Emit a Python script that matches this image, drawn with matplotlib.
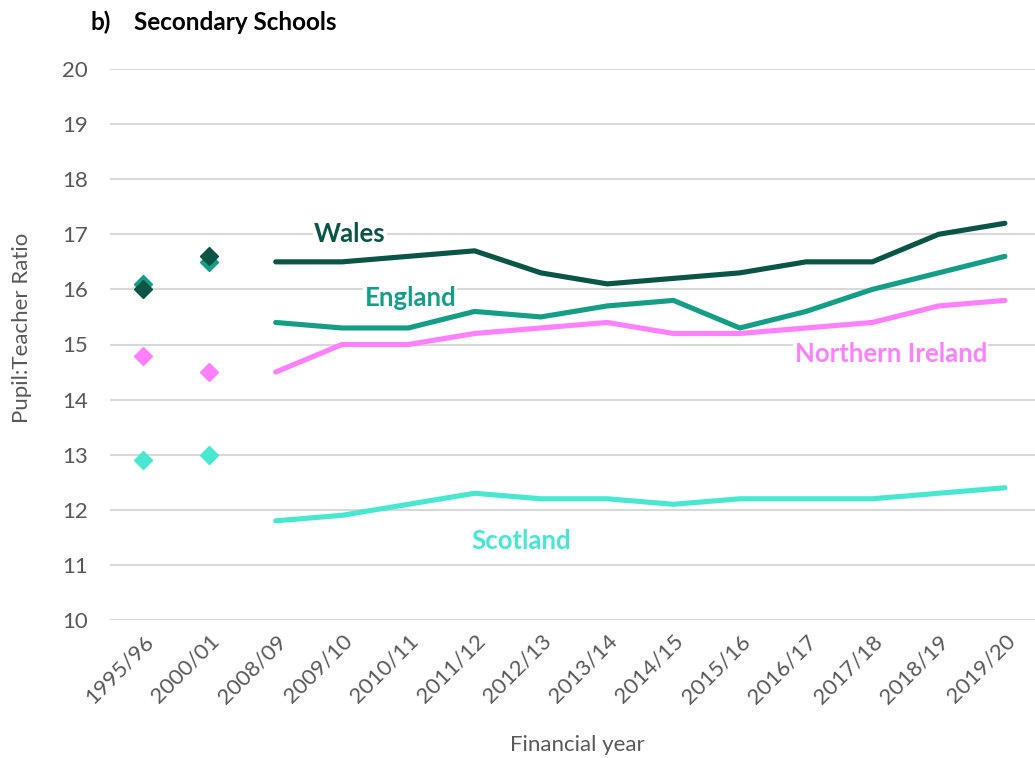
import matplotlib
matplotlib.use("Agg")
import matplotlib.pyplot as plt
import numpy as np

years = ["1995/96", "2000/01", "2008/09", "2009/10", "2010/11", "2011/12", "2012/13",
         "2013/14", "2014/15", "2015/16", "2016/17", "2017/18", "2018/19", "2019/20"]

# first two values are stand-alone points (diamonds), remaining are lines
wales = [16.0, 16.6, 16.5, 16.5, 16.6, 16.7, 16.3, 16.1, 16.2, 16.3, 16.5, 16.5, 17.0, 17.2]
england = [16.1, 16.5, 15.4, 15.3, 15.3, 15.6, 15.5, 15.7, 15.8, 15.3, 15.6, 16.0, 16.3, 16.6]
n_ireland = [14.8, 14.5, 14.5, 15.0, 15.0, 15.2, 15.3, 15.4, 15.2, 15.2, 15.3, 15.4, 15.7, 15.8]
scotland = [12.9, 13.0, 11.8, 11.9, 12.1, 12.3, 12.2, 12.2, 12.1, 12.2, 12.2, 12.2, 12.3, 12.4]

names = ["Scotland", "Northern Ireland", "England", "Wales"]
series = [scotland, n_ireland, england, wales]
colors = ["#48E8D0", "#FF80FF", "#159E86", "#0B5546"]
label_pos = {"Wales": (3.12, 17.0), "England": (4.03, 15.84), "Northern Ireland": (11.28, 14.83),
             "Scotland": (5.70, 11.43)}

FONT = ["Lato", "DejaVu Sans"]
plt.rcParams["font.family"] = FONT

fig = plt.figure(figsize=(10.35, 7.58), dpi=100)
ax = fig.add_axes([110 / 1035, 1 - 620 / 758, 1 - 110 / 1035, (620 - 69) / 758])

x = np.arange(len(years))
for name, vals, c in zip(names, series, colors):
    ax.plot(x[2:], vals[2:], color=c, lw=3.7, solid_capstyle="round",
            solid_joinstyle="miter", zorder=3, clip_on=False)
    ax.plot(x[:2], vals[:2], ls="none", marker="D", ms=9.5, color=c, zorder=4)
    lx, ly = label_pos[name]
    ax.text(lx, ly, name, color=c, fontsize=18.5, fontweight="bold", ha="center", va="center",
            zorder=5, bbox=dict(facecolor="white", edgecolor="none", pad=1))

ax.set_ylim(10, 20)
ax.set_xlim(-0.5, (1035 - 143) / 66.3)
ax.set_yticks(range(10, 21))
ax.set_xticks(x)
ax.set_xticklabels(years, rotation=45, ha="right", va="top", rotation_mode="anchor")
ax.tick_params(axis="both", length=0, labelsize=16, labelcolor="#595959")
ax.tick_params(axis="y", pad=16)
ax.tick_params(axis="x", pad=8)
ax.grid(axis="y", color="#D9D9D9", lw=1.5, zorder=0)
ax.set_axisbelow(True)
for s in ax.spines.values():
    s.set_visible(False)

fig.text(22 / 1035, 1 - 328 / 758, "Pupil:Teacher Ratio", fontsize=16, color="#595959",
         rotation=90, ha="center", va="center")
fig.text(577 / 1035, 1 - 745 / 758, "Financial year", fontsize=16, color="#595959",
         ha="center", va="center")

fig.text(90 / 1035, 1 - 22 / 758, "b)", fontsize=17.5, fontweight="bold", color="black",
         ha="left", va="center")
fig.text(134 / 1035, 1 - 22 / 758, "Secondary Schools", fontsize=17.5, fontweight="bold",
         color="black", ha="left", va="center")

fig.savefig("out.png", dpi=100)
